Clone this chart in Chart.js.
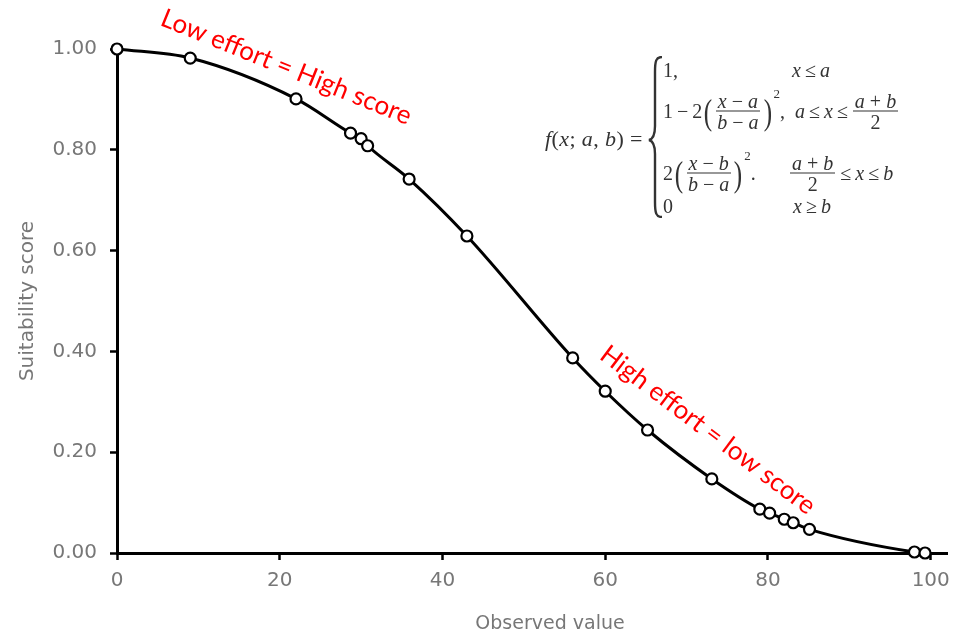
<!DOCTYPE html>
<html>
<head>
<meta charset="utf-8">
<script src="https://cdn.jsdelivr.net/npm/chart.js@4.4.1/dist/chart.umd.min.js"></script>
<style>
  body { margin: 0; background: #fff; }
  #wrap { position: relative; width: 965px; height: 636px; }
  #formula { position: absolute; left: 0; top: 0; font-family: 'Liberation Serif', serif; font-size: 20px; color: #333; }
  #formula .r { position: absolute; transform: translateY(-50%); white-space: nowrap; display: flex; align-items: center; }
  #formula i { font-style: italic; }
  .fx { font-size: 22px; letter-spacing: 0.4px; }
  .frac { display: inline-flex; flex-direction: column; align-items: center; margin: 0 1px; }
  .frac span { line-height: 1.0; padding: 0 2px; }
  .frac span:first-child { border-bottom: 1.4px solid #333; }
  .par { font-size: 36px; transform: scaleX(0.7); line-height: 1; }
  .sq { font-size: 13px; align-self: flex-start; margin-top: -5px; }
  .op { margin: 0 4px; }
</style>
</head>
<body>
<div id="wrap">
  <canvas id="zChart"></canvas>
  <div id="formula">
    <div class="r fx" style="left:545px;top:139px"><i>f</i>(<i>x</i>;&nbsp;<i>a</i>,&nbsp;<i>b</i>)&nbsp;=</div>
    <svg style="position:absolute;left:647px;top:56px" width="18" height="162" viewBox="0 0 18 162">
      <path d="M15,1 C9,1 8,5 8,16 L8,70 C8,79 6,83 2,84 C6,85 8,89 8,98 L8,146 C8,157 9,161 15,161" stroke="#333" stroke-width="2.4" fill="none"/>
    </svg>
    <div class="r" style="left:663px;top:70px">1,</div>
    <div class="r" style="left:792px;top:70px"><i>x</i><span class="op">≤</span><i>a</i></div>

    <div class="r" style="left:663px;top:111px">1<span class="op">−</span>2<span class="par">(</span><span class="frac"><span><i>x</i>&nbsp;−&nbsp;<i>a</i></span><span><i>b</i>&nbsp;−&nbsp;<i>a</i></span></span><span class="par">)</span><span class="sq">2</span>,</div>
    <div class="r" style="left:795px;top:111px"><i>a</i><span class="op">≤</span><i>x</i><span class="op">≤</span><span class="frac"><span><i>a</i>&nbsp;+&nbsp;<i>b</i></span><span>2</span></span></div>

    <div class="r" style="left:663px;top:173px">2<span class="par">(</span><span class="frac"><span><i>x</i>&nbsp;−&nbsp;<i>b</i></span><span><i>b</i>&nbsp;−&nbsp;<i>a</i></span></span><span class="par">)</span><span class="sq">2</span>.</div>
    <div class="r" style="left:789px;top:173px"><span class="frac"><span><i>a</i>&nbsp;+&nbsp;<i>b</i></span><span>2</span></span><span class="op">≤</span><i>x</i><span class="op">≤</span><i>b</i></div>

    <div class="r" style="left:663px;top:206px">0</div>
    <div class="r" style="left:793px;top:206px"><i>x</i><span class="op">≥</span><i>b</i></div>
  </div>
</div>
<script>
// values
const observed = [0, 9, 22, 28.7, 30, 30.8, 35.9, 43, 56, 60, 65.2, 73.1, 79, 80.2, 82, 83.1, 85.1, 98, 99.3]
const suitability = [1.0, 0.982, 0.901, 0.833, 0.822, 0.808, 0.742, 0.629, 0.387, 0.321, 0.244, 0.147, 0.087, 0.079, 0.067, 0.060, 0.047, 0.002, 0.0]

const xTicks = [0, 20, 40, 60, 80, 100]
const yTicks = [0, 0.2, 0.4, 0.6, 0.8, 1.0]

const xTitle = 'Observed value'
const yTitle = 'Suitability score'

// red notes, placed in data units
const notes = ['Low effort = High score', 'High effort = low score']
const noteX = [20.8, 72.6]
const noteY = [0.964, 0.244]
const noteAngle = [22, 37]

const gray = '#777'

const notesPlugin = {
    id: 'notes',
    afterDraw(chart){
        const {ctx, scales, chartArea} = chart
        ctx.save()
        // x axis title, a bit right of the scale centre like the original
        ctx.fillStyle = gray
        ctx.font = '19px "DejaVu Sans"'
        ctx.textAlign = 'center'
        ctx.textBaseline = 'middle'
        ctx.fillText(xTitle, (chartArea.left + chartArea.right) / 2 + 18, chart.height - 12)

        ctx.fillStyle = '#ff0000'
        ctx.font = '26px Lato'
        notes.forEach((text, i) => {
            ctx.save()
            ctx.translate(scales.x.getPixelForValue(noteX[i]), scales.y.getPixelForValue(noteY[i]))
            ctx.rotate(noteAngle[i] * Math.PI / 180)
            ctx.fillText(text, 0, 0)
            ctx.restore()
        })
        ctx.restore()
    }
}

const zChart = new Chart(document.getElementById('zChart'), {
    type: 'line',
    data: {
        datasets: [{
            data: observed.map((x, i) => ({x: x, y: suitability[i]})),
            borderColor: '#000',
            borderWidth: 3,
            cubicInterpolationMode: 'monotone',
            pointRadius: 5.5,
            pointBorderWidth: 2.2,
            pointBackgroundColor: '#fff',
            pointBorderColor: '#000',
            clip: false
        }]
    },
    options: {
        responsive: true,
        maintainAspectRatio: false,
        animation: false,
        layout: { padding: { top: 49, right: 18, left: 0, bottom: 0 } },
        plugins: { legend: { display: false }, tooltip: { enabled: false } },
        scales: {
            x: {
                type: 'linear',
                min: 0,
                max: 102,
                afterFit: (scale) => { scale.height = 83 },
                afterBuildTicks: (scale) => { scale.ticks = xTicks.map(v => ({value: v})) },
                border: { color: '#000', width: 3 },
                grid: { drawOnChartArea: false, tickLength: 7, tickColor: '#000', tickWidth: 2.5 },
                ticks: { color: gray, padding: 9, maxRotation: 0, font: { family: 'DejaVu Sans', size: 20 } }
            },
            y: {
                min: 0,
                max: 1,
                afterFit: (scale) => { scale.width = 117 },
                afterBuildTicks: (scale) => { scale.ticks = yTicks.map(v => ({value: v})) },
                border: { color: '#000', width: 3 },
                grid: { drawOnChartArea: false, tickLength: 7, tickColor: '#000', tickWidth: 2.5 },
                ticks: { color: gray, padding: 13, callback: (v) => v.toFixed(2), font: { family: 'DejaVu Sans', size: 20 } },
                title: { display: true, text: yTitle, color: gray, padding: { top: 16, bottom: 0 }, font: { family: 'DejaVu Sans', size: 20 } }
            }
        }
    },
    plugins: [notesPlugin]
})
</script>
</body>
</html>
